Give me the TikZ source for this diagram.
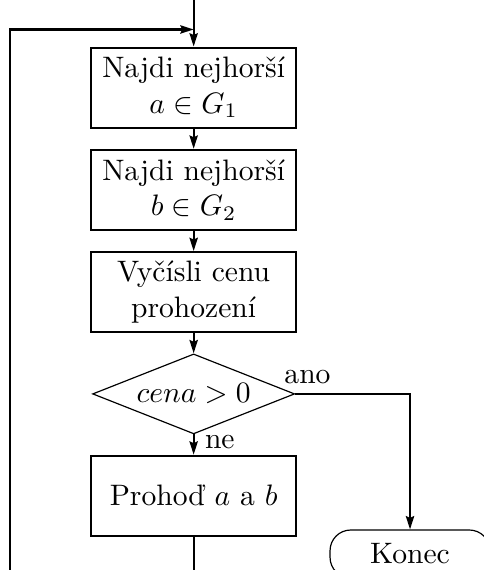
\documentclass[tikz,border=0pt]{standalone}
\usepackage{fontspec}
\usepackage{amsmath}
\usetikzlibrary{positioning,shapes.geometric,arrows.meta}

\begin{document}
\begin{tikzpicture}[
    node distance=0.24cm,
    box/.style={draw, line width=0.7pt, minimum width=2.44cm, minimum height=0.95cm, align=center, inner sep=2pt},
    test/.style={draw, diamond, aspect=2.5, line width=0.4pt, minimum width=2.40cm, minimum height=0.95cm, inner sep=0pt},
    stop/.style={draw, rectangle, rounded corners=7pt, line width=0.4pt, minimum width=1.90cm, minimum height=0.57cm},
    flow/.style={-{Stealth[length=4.5pt,width=2.8pt,inset=0.6pt]}, line width=0.7pt}
  ]
  \useasboundingbox (0,0) rectangle (5.74,6.77);

  % Steps of the loop
  \node[box] (finda) at (2.30,5.73) {Najdi nejhorší\\$a \in G_1$};
  \node[box, below=of finda] (findb) {Najdi nejhorší\\$b \in G_2$};
  \node[box, below=of findb] (cost) {Vyčísli cenu\\prohození};
  \node[test, below=of cost] (test) {$cena > 0$};
  \node[box, below=of test] (swap) {Prohoď $a$ a $b$};
  \node[stop] (end) at (4.87,0.19) {Konec};

  % Loose ends of the loop
  \coordinate (top) at (2.30,6.90);
  \coordinate (join) at (2.30,6.42);
  \coordinate (back) at (0.12,-0.20);
  \coordinate (out) at (2.30,-0.20);

  % Arrows
  \draw[flow] (top) -- (finda);
  \draw[flow] (back) |- (join);
  \draw[flow] (finda) -- (findb);
  \draw[flow] (findb) -- (cost);
  \draw[flow] (cost) -- (test);
  \draw[flow] (test) -- node[right, inner sep=3.5pt, yshift=1pt] {ne} (swap);
  \draw[flow] (test.east) node[anchor=south west, inner sep=1pt, xshift=-5pt, yshift=2pt] {ano} -| (end);
  \draw[line width=0.7pt] (swap) -- (out);

\end{tikzpicture}
\end{document}
